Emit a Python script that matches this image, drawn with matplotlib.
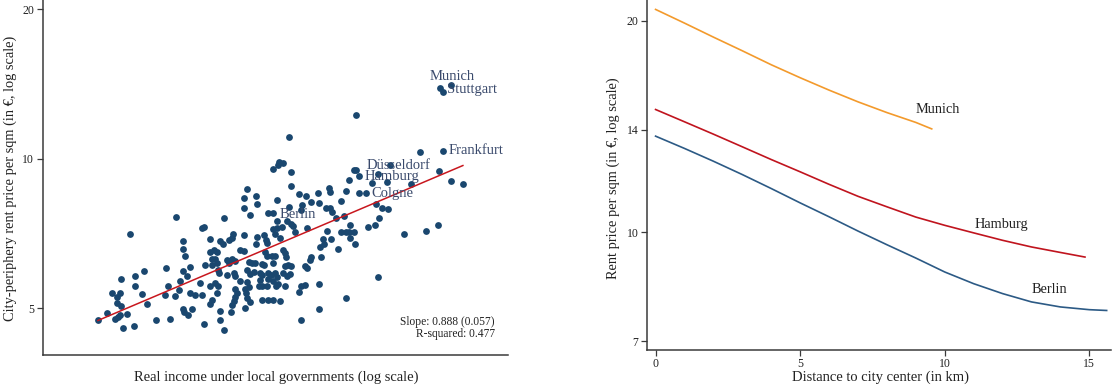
import numpy as np
import matplotlib
matplotlib.use("Agg")
import matplotlib.pyplot as plt

plt.rcParams["font.family"] = ["Liberation Serif", "DejaVu Serif"]

# --- left panel: city-periphery rent vs. real income (log-log) ---
income_log = [
    10.327, 10.305, 10.314, 10.301, 10.292, 10.331, 10.332, 10.233, 10.254, 10.226,
    10.255, 10.299, 10.349, 10.364, 10.390, 10.415, 10.417, 10.376, 10.394, 10.441,
    10.356, 10.327, 10.227, 10.239, 10.281, 10.408, 10.418, 10.422, 10.354, 10.183,
    10.299, 10.321, 10.431, 10.475, 10.618, 10.550, 10.471, 10.459, 10.523, 10.660,
    10.510, 10.543, 10.597, 10.685, 10.712, 10.453, 10.482, 10.519, 10.532, 10.545,
    10.449, 10.526, 9.973, 10.134, 10.138, 10.152, 10.092, 10.092, 10.095, 10.152,
    10.156, 9.953, 9.986, 10.006, 10.053, 10.092, 10.107, 10.101, 10.141, 10.156,
    9.984, 9.935, 9.951, 9.946, 10.001, 10.058, 10.085, 10.130, 10.152, 9.946,
    9.953, 10.012, 10.052, 10.073, 10.083, 10.106, 10.119, 10.134, 10.156, 10.151,
    9.924, 9.903, 9.941, 9.947, 9.951, 9.968, 10.091, 10.094, 10.102, 10.112,
    10.031, 10.063, 9.958, 9.982, 10.139, 10.075, 10.174, 10.180, 10.193, 10.200,
    10.202, 10.227, 10.255, 10.270, 10.276, 10.278, 10.254, 10.292, 10.299, 10.310,
    10.295, 10.306, 10.330, 10.336, 10.339, 10.366, 10.402, 10.420, 10.405, 10.435,
    10.396, 10.160, 10.167, 10.218, 10.227, 10.273, 10.277, 10.288, 10.295, 10.314,
    10.317, 10.320, 10.163, 10.166, 10.189, 10.200, 10.207, 10.193, 10.237, 10.244,
    10.251, 10.266, 10.270, 10.292, 10.317, 10.325, 10.332, 10.361, 10.366, 10.376,
    10.372, 10.398, 10.168, 10.171, 10.189, 10.204, 10.207, 10.233, 10.240, 10.248,
    10.262, 10.266, 10.262, 10.281, 10.286, 10.295, 10.299, 10.292, 10.281, 10.314,
    10.321, 10.328, 10.163, 10.168, 10.218, 10.233, 10.237, 10.261, 10.266, 10.277,
    10.298, 10.303, 10.317, 10.352, 10.349, 10.361, 10.393, 10.166, 10.207, 10.211,
    10.207, 10.204, 10.200, 10.198, 10.229, 10.232, 10.233, 10.239, 10.266, 10.281,
    10.290, 10.306, 10.173, 10.173, 10.182, 10.229, 10.352, 10.393, 10.462, 10.460,
    10.471, 10.462, 10.473, 10.453, 10.501, 10.518, 10.581, 10.630, 10.657, 10.524,
    10.453, 10.442, 10.410, 10.661,
]
periphery_rent = [
    11.05, 9.85, 9.80, 9.73, 9.55, 9.43, 8.81, 8.71, 8.44, 8.35,
    8.12, 8.27, 8.51, 8.42, 8.54, 8.75, 8.60, 8.20, 8.16, 8.23,
    8.08, 8.02, 7.96, 7.73, 7.78, 7.96, 7.96, 7.82, 7.88, 7.60,
    7.50, 7.50, 7.61, 12.25, 10.31, 9.74, 9.51, 9.08, 9.33, 9.47,
    8.94, 8.98, 8.91, 9.05, 8.91, 8.64, 8.56, 8.12, 7.97, 7.94,
    7.69, 7.61, 7.05, 7.27, 7.31, 6.91, 6.84, 6.58, 6.38, 6.50,
    6.28, 5.72, 5.82, 5.96, 6.04, 5.96, 6.05, 5.80, 6.11, 6.11,
    5.55, 5.36, 5.38, 5.28, 5.34, 5.55, 5.68, 5.64, 5.55, 5.14,
    5.06, 5.11, 5.33, 5.29, 5.45, 5.36, 5.33, 5.33, 5.21, 5.10,
    4.89, 4.75, 4.77, 4.81, 4.84, 4.87, 4.98, 4.92, 4.85, 4.98,
    4.74, 4.77, 4.56, 4.60, 4.65, 7.64, 6.84, 6.75, 6.88, 6.94,
    7.07, 7.02, 6.97, 7.02, 6.86, 6.77, 6.73, 7.24, 7.27, 7.29,
    7.07, 6.94, 7.41, 7.32, 7.13, 7.27, 6.91, 6.91, 6.73, 6.60,
    6.65, 6.55, 6.50, 6.57, 6.53, 6.50, 6.39, 6.39, 6.38, 6.57,
    6.47, 6.36, 6.30, 6.18, 6.27, 6.30, 6.23, 6.18, 6.20, 6.16,
    6.18, 6.14, 6.11, 6.18, 6.08, 6.11, 6.08, 6.08, 6.02, 6.35,
    6.25, 6.35, 5.99, 5.89, 5.83, 5.89, 5.80, 5.97, 5.88, 5.93,
    5.90, 5.83, 5.71, 5.90, 5.83, 5.90, 5.79, 5.68, 5.74, 5.90,
    5.80, 5.88, 5.63, 5.56, 5.68, 5.66, 5.53, 5.56, 5.54, 5.56,
    5.56, 5.59, 5.54, 5.54, 5.40, 5.58, 5.61, 5.36, 5.48, 5.36,
    5.28, 5.18, 5.08, 4.92, 5.48, 5.36, 5.24, 5.16, 5.20, 5.20,
    5.20, 5.18, 4.95, 4.74, 4.52, 5.02, 4.74, 4.98, 7.37, 7.13,
    7.13, 6.94, 6.75, 7.13, 7.29, 7.35, 7.05, 7.16, 7.37, 5.79,
    5.26, 7.13, 7.15, 13.93,
]

# labelled cities
city_names = ["Munich", "Stuttgart", "Frankfurt", "Düsseldorf", "Hamburg", "Colgne", "Berlin"]
city_income_log = [10.686, 10.667, 10.669, 10.476, 10.482, 10.497, 10.290]
city_rent = [14.08, 13.67, 10.39, 9.51, 9.26, 8.54, 7.78]
# label offset (points) and alignment for each city label
city_offsets = [(1, 6.5), (3, 1.5), (4, 0), (7, 3), (4, -0.5), (4, -0.5), (5, -1)]
city_ha = ["center", "left", "left", "left", "left", "left", "left"]

fit_slope = 0.888
fit_se = 0.057
fit_intercept = -7.24
fit_r2 = 0.477

# --- right panel: rent gradient by distance to centre ---
munich_km = [0, 1, 2, 3, 4, 5, 6, 7, 8, 9, 9.55]
munich_rent = [20.75, 19.84, 18.95, 18.12, 17.31, 16.59, 15.93, 15.33, 14.80, 14.33, 14.03]
hamburg_km = [0, 1, 2, 3, 4, 5, 6, 7, 8, 9, 10, 11, 12, 13, 14, 14.85]
hamburg_rent = [14.95, 14.36, 13.79, 13.23, 12.69, 12.19, 11.70, 11.25, 10.87, 10.51,
                10.23, 9.98, 9.74, 9.53, 9.36, 9.22]
berlin_km = [0, 1, 2, 3, 4, 5, 6, 7, 8, 9, 10, 11, 12, 13, 14, 15, 15.6]
berlin_rent = [13.70, 13.16, 12.62, 12.08, 11.54, 11.01, 10.52, 10.04, 9.60, 9.19,
               8.78, 8.45, 8.18, 7.96, 7.83, 7.76, 7.74]

NAVY = "#1a476f"
LABEL_BLUE = "#3a4a6c"
AXIS = "#3a3a3a"
W, H = 1113, 387


def style_axes(ax):
    for side in ("top", "right"):
        ax.spines[side].set_visible(False)
    for side in ("left", "bottom"):
        ax.spines[side].set_color(AXIS)
        ax.spines[side].set_linewidth(1.1)
    ax.tick_params(colors=AXIS, labelcolor="#222222", labelsize=8.5, length=4, width=0.9, pad=2)
    ax.minorticks_off()


fig = plt.figure(figsize=(W / 100, H / 100), dpi=100)

# left panel
ax1 = fig.add_axes([42.5 / W, 1 - 355 / H, 465.5 / W, 355 / H])
ax1.scatter(income_log, periphery_rent, s=24, color=NAVY, linewidths=0, zorder=2)
ax1.scatter(city_income_log, city_rent, s=24, color=NAVY, linewidths=0, zorder=2)

xs = np.array([min(income_log), max(income_log)])
ax1.plot(xs, np.exp(fit_intercept + fit_slope * xs), color="#c8171e", lw=1.1, zorder=3)

for name, x, y, off, ha in zip(city_names, city_income_log, city_rent, city_offsets, city_ha):
    ax1.annotate(name, (x, y), xytext=off, textcoords="offset points",
                 ha=ha, va="center", fontsize=10.5, color=LABEL_BLUE, zorder=4)

ax1.text(0.972, 0.076, f"Slope: {fit_slope:.3f} ({fit_se:.3f})\nR-squared: {fit_r2:.3f}",
         transform=ax1.transAxes, ha="right", va="center", multialignment="right",
         fontsize=8.3, linespacing=1.0, color="#222222")

ax1.set_yscale("log")
ax1.set_ylim(4.03, 20.9)
ax1.set_xlim(9.780, 10.812)
style_axes(ax1)
ax1.set_yticks([5, 10, 20])
ax1.set_yticklabels(["5", "10", "20"])
ax1.set_xticks([])

fig.text(10 / W, 1 - 178 / H, "City-periphery rent price per sqm (in €, log scale)",
         rotation=90, ha="center", va="center", fontsize=10.4, color="#222222")
fig.text(276 / W, 1 - 377.7 / H, "Real income under local governments (log scale)",
         ha="center", va="center", fontsize=10.5, color="#222222")

# right panel
ax2 = fig.add_axes([646.9 / W, 1 - 350 / H, 464.1 / W, 350 / H])
ax2.plot(munich_km, munich_rent, color="#f39a2c", lw=1.2)
ax2.plot(hamburg_km, hamburg_rent, color="#c0141e", lw=1.2)
ax2.plot(berlin_km, berlin_rent, color="#2c5a85", lw=1.2)

ax2.text(9.0, 14.95, "Munich", ha="left", va="center", fontsize=10.3, color="#222222")
ax2.text(11.03, 10.27, "Hamburg", ha="left", va="center", fontsize=10.3, color="#222222")
ax2.text(13.0, 8.29, "Berlin", ha="left", va="center", fontsize=10.3, color="#222222")

ax2.set_yscale("log")
ax2.set_ylim(6.80, 21.4)
ax2.set_xlim(-0.30, 15.75)
style_axes(ax2)
ax2.set_yticks([7, 10, 14, 20])
ax2.set_yticklabels(["7", "10", "14", "20"])
ax2.set_xticks([0, 5, 10, 15])
ax2.set_xticklabels(["0", "5", "10", "15"])

fig.text(613 / W, 1 - 178.5 / H, "Rent price per sqm (in €, log scale)",
         rotation=90, ha="center", va="center", fontsize=10.4, color="#222222")
fig.text(881 / W, 1 - 377.7 / H, "Distance to city center (in km)",
         ha="center", va="center", fontsize=10.5, color="#222222")

fig.savefig("out.png", dpi=100)
